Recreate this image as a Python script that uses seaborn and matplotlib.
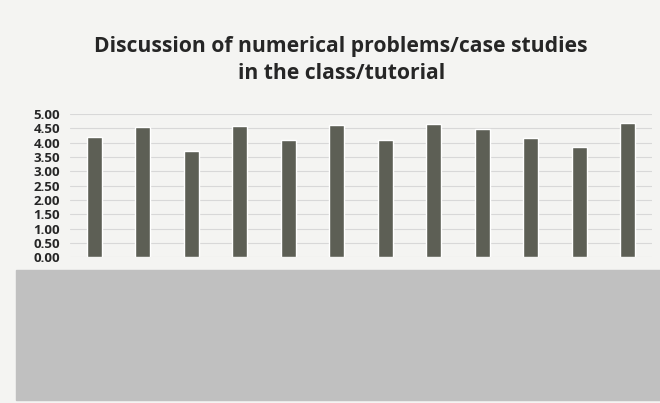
import matplotlib
matplotlib.use("Agg")
import matplotlib.pyplot as plt
import seaborn as sns
import pandas as pd
from matplotlib.patches import Rectangle

questions = ["1", "2", "3", "4", "5", "6", "7", "8", "9", "10", "11", "12"]
scores = [4.20, 4.55, 3.70, 4.58, 4.09, 4.60, 4.09, 4.65, 4.48, 4.16, 3.85, 4.70]
yticks = [0.0, 0.5, 1.0, 1.5, 2.0, 2.5, 3.0, 3.5, 4.0, 4.5, 5.0]

df = pd.DataFrame({"question": questions, "score": scores})

sns.set_style("white")
plt.rcParams["font.family"] = ["Open Sans", "DejaVu Sans"]

fig = plt.figure(figsize=(6.6, 4.03), dpi=100, facecolor="#f4f4f2")
ax = fig.add_axes([0.106, 0.362, 0.882, 0.355])
ax.set_facecolor("#f4f4f2")

sns.barplot(data=df, x="question", y="score", color="#5d5f55", width=0.31,
            saturation=1, ax=ax)

ax.set_ylim(0, 5)
ax.set_xlim(-0.5, len(questions) - 0.5)
ax.set_yticks(yticks)
ax.set_yticklabels([f"{v:.2f}" for v in yticks], fontsize=9.5, fontweight="bold")
ax.tick_params(axis="y", length=0, pad=7)
ax.set_xticklabels([])
ax.tick_params(axis="x", length=0)
ax.set_xlabel("")
ax.set_ylabel("")
ax.grid(axis="y", color="#d8d8d8", linewidth=0.8)
ax.set_axisbelow(True)
for s in ax.spines.values():
    s.set_visible(False)

fig.text(0.517, 0.851, "Discussion of numerical problems/case studies\nin the class/tutorial",
         ha="center", va="center", fontsize=15.2, fontweight="bold", linespacing=1.4)

# grey cover box over the category labels
fig.patches.append(Rectangle((16 / 660, 3 / 403), 1 - 16 / 660, 130 / 403,
                             transform=fig.transFigure, color="#c0c0c0", zorder=5))

fig.savefig("out.png", dpi=100, facecolor=fig.get_facecolor())
